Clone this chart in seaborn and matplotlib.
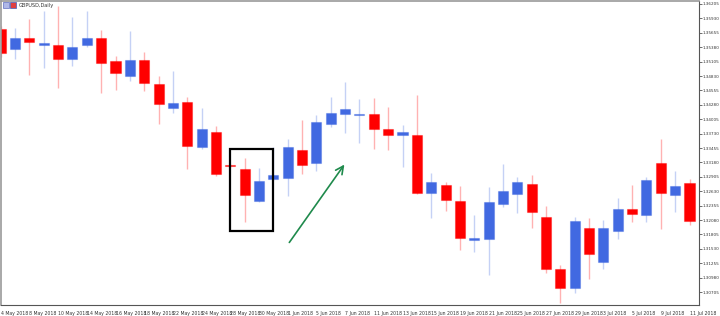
import numpy as np
import pandas as pd
import seaborn as sns
import matplotlib.pyplot as plt
from matplotlib.patches import Rectangle

# GBPUSD daily candles
dates = ['4 May', '7 May', '8 May', '9 May', '10 May', '11 May', '14 May', '15 May', '16 May', '17 May',
         '18 May', '21 May', '22 May', '23 May', '24 May', '25 May', '28 May', '29 May', '30 May', '31 May',
         '1 Jun', '4 Jun', '5 Jun', '6 Jun', '7 Jun', '8 Jun', '11 Jun', '12 Jun', '13 Jun', '14 Jun',
         '15 Jun', '18 Jun', '19 Jun', '20 Jun', '21 Jun', '22 Jun', '25 Jun', '26 Jun', '27 Jun', '28 Jun',
         '29 Jun', '2 Jul', '3 Jul', '4 Jul', '5 Jul', '6 Jul', '9 Jul', '10 Jul', '11 Jul']
opens = [1.35722, 1.35340, 1.35561, 1.35428, 1.35422, 1.35149, 1.35422, 1.35550, 1.35116, 1.34824,
         1.35141, 1.34683, 1.34219, 1.34327, 1.33474, 1.33760, 1.33130, 1.33054, 1.32448, 1.32863,
         1.32876, 1.33416, 1.33162, 1.33913, 1.34098, 1.34085, 1.34098, 1.33812, 1.33703, 1.33709,
         1.32601, 1.32748, 1.32442, 1.31707, 1.31711, 1.32379, 1.32570, 1.32773, 1.32142, 1.31144,
         1.30775, 1.31927, 1.31277, 1.31875, 1.32295, 1.32169, 1.33174, 1.32563, 1.32786]
highs = [1.35785, 1.35747, 1.35919, 1.36071, 1.36173, 1.35962, 1.36077, 1.35714, 1.35212, 1.35689,
         1.35282, 1.34830, 1.34925, 1.34423, 1.34219, 1.33881, 1.33159, 1.33258, 1.33073, 1.33479,
         1.33627, 1.33989, 1.34085, 1.34434, 1.34721, 1.34396, 1.34410, 1.34243, 1.33894, 1.34467,
         1.32983, 1.32805, 1.32729, 1.32175, 1.32704, 1.33149, 1.32906, 1.32933, 1.32353, 1.31226,
         1.32142, 1.32112, 1.32079, 1.32494, 1.32748, 1.32906, 1.33627, 1.33015, 1.32857]
lows = [1.35193, 1.35149, 1.34849, 1.34983, 1.34595, 1.35021, 1.35389, 1.34511, 1.34557, 1.34740,
        1.34549, 1.33907, 1.34123, 1.33054, 1.33436, 1.32920, 1.33092, 1.32047, 1.32429, 1.32853,
        1.32544, 1.32952, 1.33021, 1.33861, 1.33735, 1.33544, 1.33441, 1.33416, 1.33086, 1.32576,
        1.32112, 1.32257, 1.31512, 1.31474, 1.31023, 1.32328, 1.32207, 1.31927, 1.31061, 1.30494,
        1.30679, 1.30958, 1.31149, 1.31711, 1.32041, 1.32041, 1.31902, 1.32238, 1.31990]
closes = [1.35263, 1.35550, 1.35473, 1.35460, 1.35160, 1.35384, 1.35556, 1.35072, 1.34893, 1.35141,
          1.34690, 1.34295, 1.34320, 1.33487, 1.33812, 1.32952, 1.33111, 1.32551, 1.32824, 1.32933,
          1.33479, 1.33124, 1.33957, 1.34129, 1.34200, 1.34098, 1.33823, 1.33709, 1.33755, 1.32589,
          1.32800, 1.32467, 1.31736, 1.31726, 1.32418, 1.32633, 1.32811, 1.32227, 1.31144, 1.30786,
          1.32066, 1.31424, 1.31927, 1.32295, 1.32200, 1.32849, 1.32589, 1.32723, 1.32055]

price_ticks = [1.30705 + 0.00275 * k for k in range(21)]

df = pd.DataFrame({'date': dates, 'open': opens, 'high': highs, 'low': lows, 'close': closes})
df['pos'] = np.arange(len(df))
df['up'] = df['close'] >= df['open']

sns.set_style('white')
plt.rcParams['font.family'] = ['Liberation Sans Narrow', 'DejaVu Sans']

fig = plt.figure(figsize=(7.2, 3.16), dpi=100)
ax = fig.add_axes([0.001, 0.0348, 0.9698, 0.962])

up_col = '#4169e1'
dn_col = '#ff0000'
colors = np.where(df['up'], up_col, dn_col)

# wicks
ax.vlines(df['pos'], df['low'], df['high'], colors=colors, alpha=0.3, lw=1.0, zorder=1)
# bodies
body_lo = df[['open', 'close']].min(axis=1)
body_h = (df['open'] - df['close']).abs().clip(lower=0.00025)
ax.bar(df['pos'], body_h, bottom=body_lo, width=0.7, color=colors,
       edgecolor=[c + '66' for c in colors], linewidth=0.8, zorder=2)

ax.set_xlim(0, 48.66)
ax.set_ylim(1.30457, 1.36262)

# annotations
ax.add_patch(Rectangle((16, 1.31869), 3, 1.33436 - 1.31869, fill=False,
                       edgecolor='black', lw=1.6, zorder=3))
ax.annotate('', xy=(24.06, 1.33182), xytext=(20, 1.31608),
            arrowprops=dict(arrowstyle='->', color='#1f8a4c', lw=1.2,
                            mutation_scale=14))

# axes styling
ax.yaxis.tick_right()
ax.set_yticks(price_ticks)
ax.set_yticklabels([f'{p:.5f}' for p in price_ticks], fontsize=3.0, color='#333333')
ax.tick_params(axis='y', direction='out', length=2, width=0.6, color='#555555', pad=0.6)

xt = df['pos'][::2]
ax.set_xticks(xt)
ax.set_xticklabels([d + ' 2018' for d in df['date'][::2]], fontsize=3.3, color='#333333', ha='left')
ax.tick_params(axis='x', direction='out', length=3, width=0.6, color='#555555', pad=1)

for s in ['top', 'left']:
    ax.spines[s].set_color('#999999')
    ax.spines[s].set_linewidth(1.2)
for s in ['bottom', 'right']:
    ax.spines[s].set_color('#555555')
    ax.spines[s].set_linewidth(0.8)

# chart header with small icon
fig.patches.append(Rectangle((3 / 720, 1 - 8 / 316), 6 / 720, 6 / 316, transform=fig.transFigure,
                             facecolor='#b0b8e8', edgecolor='#6070c0', lw=0.5))
fig.patches.append(Rectangle((10 / 720, 1 - 8 / 316), 6 / 720, 6 / 316, transform=fig.transFigure,
                             facecolor='#e04040', edgecolor='#4060c0', lw=0.5))
fig.text(19 / 720, 1 - 5 / 316, 'GBPUSD,Daily', fontsize=3.6, color='#333333', va='center')

plt.savefig('out.png', dpi=100)
